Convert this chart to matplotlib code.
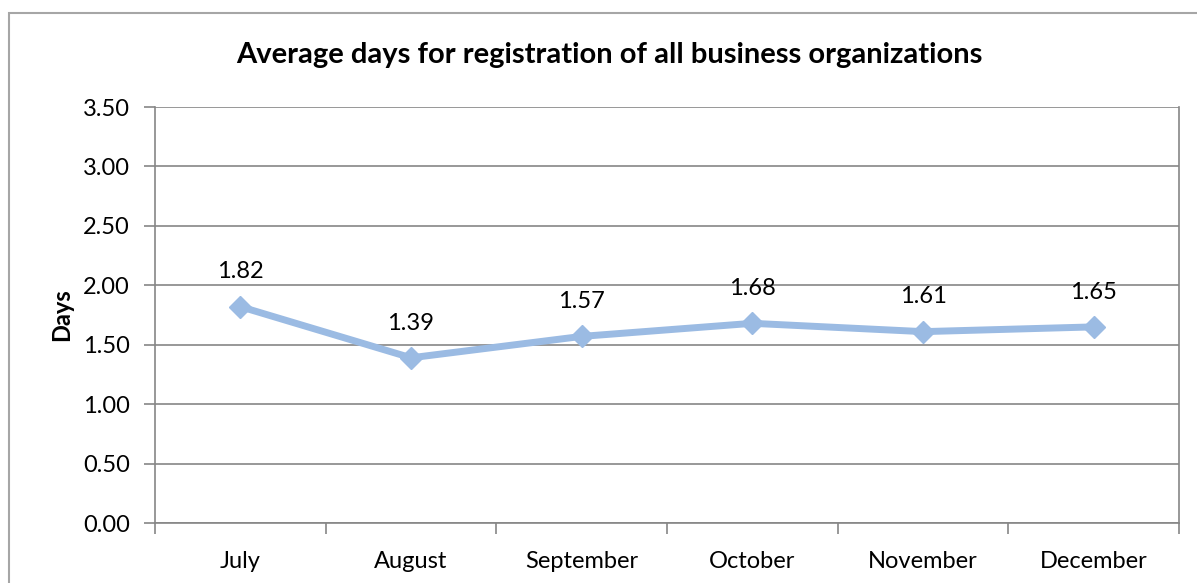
import matplotlib.pyplot as plt
from matplotlib.patches import Rectangle

months = ["July", "August", "September", "October", "November", "December"]
days = [1.82, 1.39, 1.57, 1.68, 1.61, 1.65]
y_ticks = [0.0, 0.5, 1.0, 1.5, 2.0, 2.5, 3.0, 3.5]

plt.rcParams['font.family'] = ['Lato', 'DejaVu Sans']
grey = '#868686'
blue = '#9BBBE3'

fig = plt.figure(figsize=(11.97, 5.83), dpi=100)
ax = fig.add_axes([155 / 1197, 1 - 523 / 583, (1179 - 155) / 1197, (523 - 107) / 583])

# outer chart border (cropped at right/bottom)
fig.patches.append(Rectangle((9 / 1197, -0.05), 1.2, 1 - 13 / 583 + 0.05,
                             transform=fig.transFigure, fill=False,
                             edgecolor='#A6A6A6', linewidth=1.5))

x = list(range(len(months)))
ax.plot(x, days, color=blue, linewidth=5, marker='D', markersize=11,
        markerfacecolor=blue, markeredgecolor=blue, zorder=3)
for xi, v in zip(x, days):
    ax.annotate(f"{v:.2f}", (xi, v), xytext=(0, 25), textcoords='offset points',
                ha='center', va='center', fontsize=17)

ax.set_xlim(-0.5, len(months) - 0.5)
ax.set_ylim(0, 3.5)
ax.set_yticks(y_ticks)
ax.set_yticklabels([f"{t:.2f}" for t in y_ticks], fontsize=17)
ax.set_xticks(x)
ax.set_xticklabels(months, fontsize=17)
ax.set_xticks([i - 0.5 for i in range(len(months) + 1)], minor=True)
ax.tick_params(axis='x', which='major', length=0, pad=20)
ax.tick_params(axis='x', which='minor', length=8, color=grey, width=1.2)
ax.tick_params(axis='y', length=8, color=grey, width=1.2, pad=10)
ax.yaxis.grid(True, color=grey, linewidth=1.2)
ax.set_axisbelow(True)
for s in ax.spines.values():
    s.set_color(grey)
    s.set_linewidth(1.2)
ax.spines['top'].set_visible(False)

ax.set_ylabel("Days", fontsize=17, fontweight='bold', labelpad=7)
fig.text(609 / 1197, 1 - 55 / 583, "Average days for registration of all business organizations",
         ha='center', va='center', fontsize=21, fontweight='bold')

fig.savefig("out.png", dpi=100)
